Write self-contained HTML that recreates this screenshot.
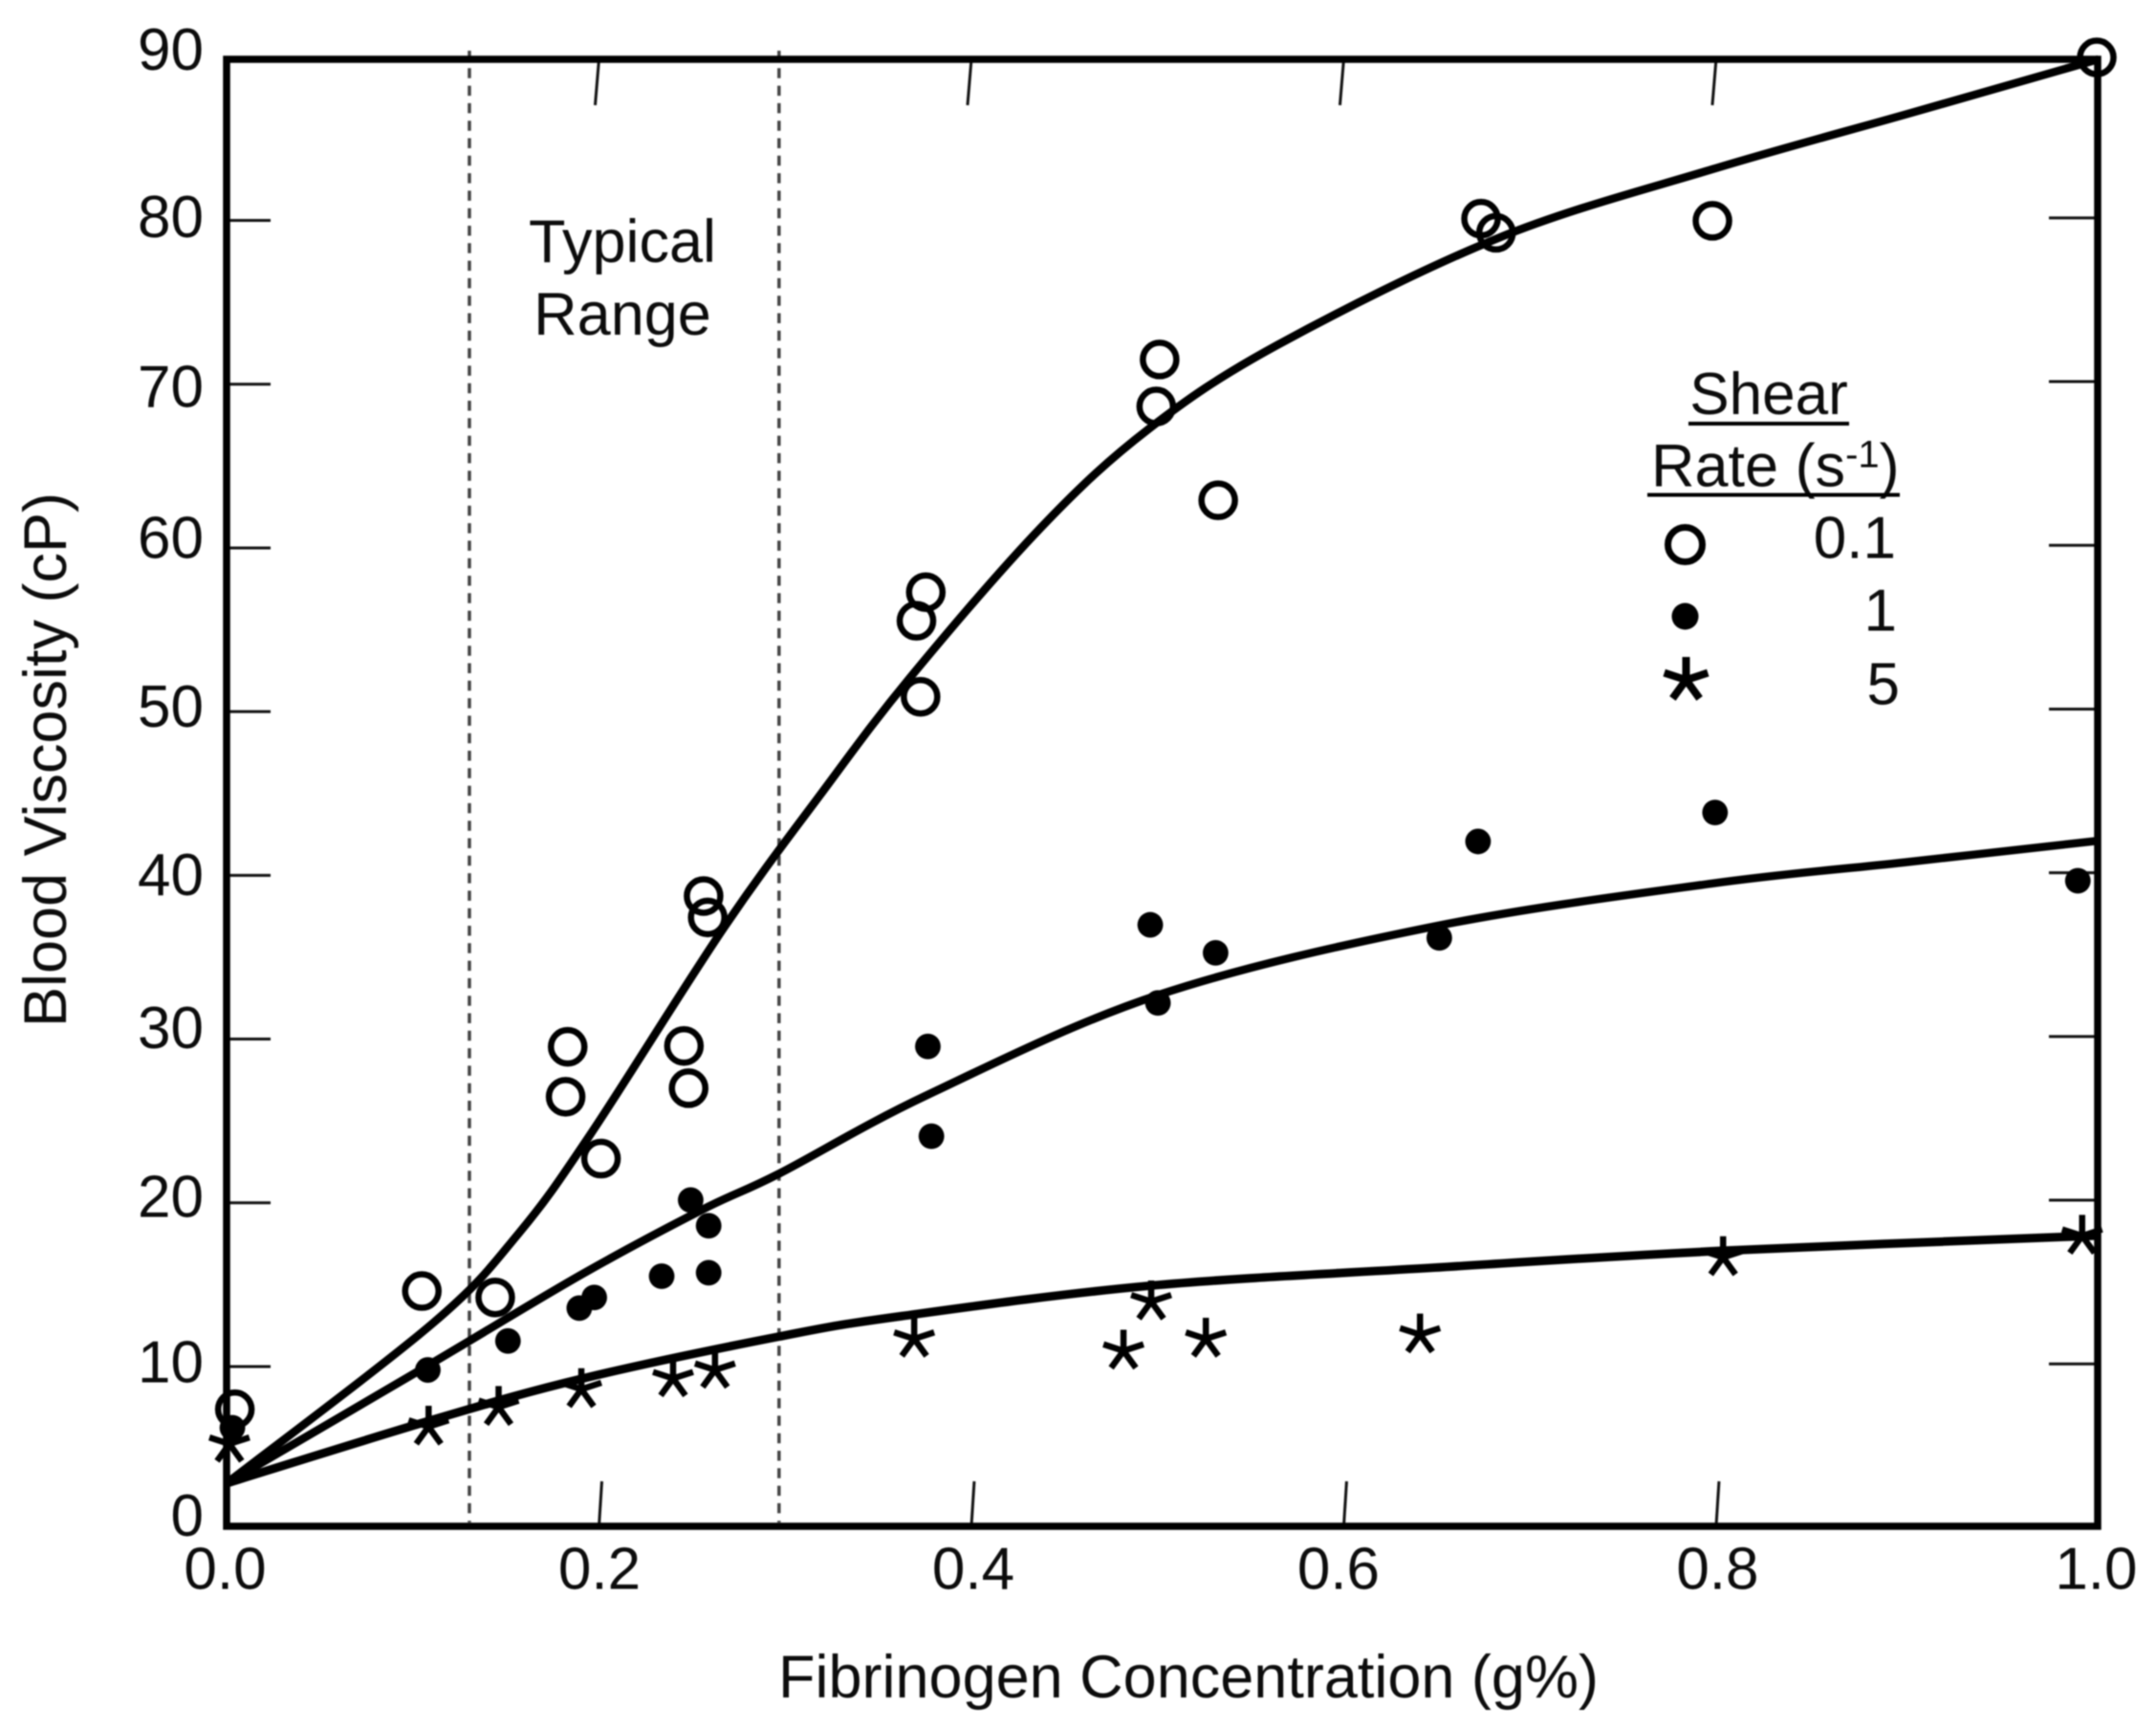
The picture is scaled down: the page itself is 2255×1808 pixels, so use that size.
<!DOCTYPE html>
<html lang="en">
<head>
<meta charset="utf-8">
<title>Blood Viscosity vs Fibrinogen Concentration</title>
<style>
  html, body { margin: 0; padding: 0; background: #ffffff; }
  body { width: 2255px; height: 1808px; overflow: hidden; }
  svg { display: block; filter: blur(0.8px); }
  text { font-family: "Liberation Sans", sans-serif; fill: #0c0c0c; font-size: 62px; }
  .wide { font-size: 63px; }
</style>
</head>
<body>
<svg id="chart" xmlns="http://www.w3.org/2000/svg" width="2255" height="1808" viewBox="0 0 2255 1808">
  <rect x="0" y="0" width="2255" height="1808" fill="#ffffff"/>
  <g id="guides"></g>
  <g id="ticks"></g>
  <rect x="237" y="62" width="1957" height="1534" fill="none" stroke="#000" stroke-width="7.5"/>
  <g id="tick-labels"></g>
  <g id="curves"></g>
  <g id="points"></g>

  <text class="wide" transform="translate(69 1074) rotate(-90)">Blood Viscosity (cP)</text>
  <text class="wide" x="814" y="1775">Fibrinogen Concentration (g%)</text>

  <g>
    <text class="wide" x="651" y="274" text-anchor="middle">Typical</text>
    <text class="wide" x="651" y="350" text-anchor="middle">Range</text>
  </g>

  <g>
    <text x="1850" y="433" text-anchor="middle">Shear</text>
    <line x1="1766" y1="443" x2="1934" y2="443" stroke="#000" stroke-width="4"/>
    <text class="wide" x="1727" y="508.5">Rate (s<tspan font-size="40" dy="-20">-1</tspan><tspan dy="20">)</tspan></text>
    <line x1="1723" y1="517.5" x2="1987" y2="517.5" stroke="#000" stroke-width="4"/>
    <circle cx="1762.5" cy="569.5" r="18" fill="none" stroke="#000" stroke-width="7"/>
    <text x="1983" y="583.5" text-anchor="end">0.1</text>
    <circle cx="1762.5" cy="644.5" r="14" fill="#000"/>
    <text x="1984" y="659.5" text-anchor="end">1</text>
    <path fill="none" stroke="#000" stroke-width="8" d="M1763.5 711L1763.5 687M1763.5 711L1786.3 703.6M1763.5 711L1777.6 730.4M1763.5 711L1749.4 730.4M1763.5 711L1740.7 703.6"/>
    <text x="1987" y="736.5" text-anchor="end">5</text>
  </g>
</svg>

<script>
// ---- axis tick values ----
const yTicks = [0, 10, 20, 30, 40, 50, 60, 70, 80, 90];
const yTickLabels = ['0', '10', '20', '30', '40', '50', '60', '70', '80', '90'];
const xTicks = [0.0, 0.2, 0.4, 0.6, 0.8, 1.0];
const xTickLabels = ['0.0', '0.2', '0.4', '0.6', '0.8', '1.0'];
const typicalRange = [0.1297, 0.2951];

// ---- shear rate 0.1 (open circles) ----
const openX = [0.0044, 0.1043, 0.1435, 0.1822, 0.1811, 0.2000, 0.2443, 0.2468, 0.2548, 0.2570, 0.3685, 0.3735, 0.3707, 0.4966, 0.4984, 0.5297, 0.6701, 0.6781, 0.7937, 0.999];
const openY = [7.31, 14.53, 14.14, 29.45, 26.40, 22.62, 29.50, 26.92, 38.66, 37.35, 55.47, 57.22, 50.83, 68.56, 71.43, 62.83, 80.03, 79.17, 79.90, 89.88];

// ---- shear rate 1 (filled circles) ----
const filledX = [0.0031, 0.1075, 0.1503, 0.1884, 0.1964, 0.2324, 0.2575, 0.2479, 0.2575, 0.3746, 0.3765, 0.4934, 0.4975, 0.5283, 0.6478, 0.6685, 0.7951, 0.9889];
const filledY = [6.18, 9.71, 11.48, 13.49, 14.14, 15.44, 15.65, 20.09, 18.52, 29.47, 23.99, 36.90, 32.13, 35.19, 36.10, 41.99, 43.76, 39.59];

// ---- shear rate 5 (stars) ----
const starX = [0.0015, 0.1079, 0.1453, 0.1895, 0.2385, 0.2609, 0.3673, 0.4791, 0.4939, 0.5231, 0.6375, 0.7994, 0.9912];
const starY = [5.19, 6.24, 7.44, 8.53, 9.19, 9.71, 11.61, 10.88, 13.89, 11.61, 11.87, 16.59, 17.90];

// ---- fitted curves ----
const upperCurveX = [0, 0.1103, 0.1560, 0.1948, 0.2655, 0.3172, 0.3651, 0.4358, 0.4927, 0.5611, 0.6793, 0.7937, 0.9000, 1.0];
const upperCurveY = [2.79, 12.58, 18.05, 24.18, 36.70, 44.85, 52.0, 61.26, 67.2, 72.3, 78.85, 83.05, 86.5, 89.77];
const middleCurveX = [0, 0.1075, 0.1902, 0.2541, 0.2951, 0.3742, 0.4973, 0.6450, 0.7932, 0.8958, 0.9985];
const middleCurveY = [2.79, 9.98, 15.58, 19.5, 21.7, 26.5, 32.6, 36.80, 39.42, 40.71, 42.02];
const lowerCurveX = [0, 0.1079, 0.1902, 0.2951, 0.3606, 0.4927, 0.6450, 0.7993, 1.0];
const lowerCurveY = [2.79, 6.59, 9.19, 11.75, 13.0, 14.85, 15.96, 16.99, 17.92];

// ---- layout (printed labels in the source figure were hand placed) ----
const yLabelNudge = [7, 18, 16, 11, 22, 17, 12, 25, 19, 15];
const xLabelNudge = [-1.5, 0.5, 2, -5.5, 1.5, 8];
const xTickCompression = 0.9946;

// ---- axis functions ----
function x(v) { return 237 + 1958 * v; }
function y(v) { return 1598.8 - 17.12 * v; }
function xTick(v) { return x(v * xTickCompression); }

const NS = 'http://www.w3.org/2000/svg';
function make(tag, parent, attrs) {
  const el = document.createElementNS(NS, tag);
  for (const k in attrs) el.setAttribute(k, attrs[k]);
  parent.appendChild(el);
  return el;
}

// guides
const guides = document.getElementById('guides');
typicalRange.forEach(function (v) {
  const el = make('line', guides, { x1: x(v), x2: x(v), y1: 53, y2: 1592, stroke: '#444', 'stroke-width': 3.5, 'stroke-dasharray': '10.5 7.8' });
  
  
});

// ticks
const ticksG = document.getElementById('ticks');
yTicks.forEach(function (v) {
  if (v === 0 || v === 90) return;
  const left = make('line', ticksG, { x1: 237, x2: 283, y1: y(v) + 1.35, y2: y(v) + 1.35, stroke: '#111', 'stroke-width': 3 });
  
  
  const right = make('line', ticksG, { x1: 2143, x2: 2194, y1: y(v) - 1.35, y2: y(v) - 1.35, stroke: '#111', 'stroke-width': 3 });
  
  
});
xTicks.forEach(function (v) {
  if (v === 0 || v === 1) return;
  const bottom = make('line', ticksG, { x1: xTick(v), x2: xTick(v) + 3, y1: 1596, y2: 1549, stroke: '#111', 'stroke-width': 3 });
  
  
  const top = make('line', ticksG, { x1: xTick(v), x2: xTick(v) - 4, y1: 62, y2: 110, stroke: '#111', 'stroke-width': 3 });
  
  
});

// tick labels
const labelsG = document.getElementById('tick-labels');
yTicks.forEach(function (v, i) {
  const t = make('text', labelsG, { x: 213, y: y(v) + yLabelNudge[i], 'text-anchor': 'end' });
  t.textContent = yTickLabels[i];
  
  
});
xTicks.forEach(function (v, i) {
  const t = make('text', labelsG, { x: xTick(v) + xLabelNudge[i], y: 1661.5, 'text-anchor': 'middle' });
  t.textContent = xTickLabels[i];
  
  
});

// curves: Catmull-Rom through the read points
function smoothPath(xs, ys) {
  const px = xs.map(x), py = ys.map(y);
  let d = 'M' + px[0] + ' ' + py[0];
  for (let i = 0; i < px.length - 1; i++) {
    const a = Math.max(i - 1, 0), b = Math.min(i + 2, px.length - 1);
    const c1x = px[i] + (px[i + 1] - px[a]) / 6, c1y = py[i] + (py[i + 1] - py[a]) / 6;
    const c2x = px[i + 1] - (px[b] - px[i]) / 6, c2y = py[i + 1] - (py[b] - py[i]) / 6;
    d += 'C' + c1x + ' ' + c1y + ' ' + c2x + ' ' + c2y + ' ' + px[i + 1] + ' ' + py[i + 1];
  }
  return d;
}
const curvesG = document.getElementById('curves');
const upperPath = make('path', curvesG, { d: smoothPath(upperCurveX, upperCurveY), fill: 'none', stroke: '#000', 'stroke-width': 8.5 });


const middlePath = make('path', curvesG, { d: smoothPath(middleCurveX, middleCurveY), fill: 'none', stroke: '#000', 'stroke-width': 8.5 });


const lowerPath = make('path', curvesG, { d: smoothPath(lowerCurveX, lowerCurveY), fill: 'none', stroke: '#000', 'stroke-width': 9 });



// points
const pointsG = document.getElementById('points');
openX.forEach(function (v, i) {
  const c = make('circle', pointsG, { cx: x(v), cy: y(openY[i]), r: 17.5, fill: 'none', stroke: '#000', 'stroke-width': 6.5 });
  
  
});
filledX.forEach(function (v, i) {
  const c = make('circle', pointsG, { cx: x(v), cy: y(filledY[i]), r: 13.4, fill: '#000' });
  
  
});
const STAR_ANGLES = [-90, -18, 54, 126, 198];
starX.forEach(function (v, i) {
  const cx = x(v), cy = y(starY[i]);
  const d = STAR_ANGLES.map(function (a) {
    const r = a * Math.PI / 180;
    return 'M' + cx + ' ' + cy + 'L' + (cx + 22 * Math.cos(r)) + ' ' + (cy + 22 * Math.sin(r));
  }).join('');
  const s = make('path', pointsG, { d: d, fill: 'none', stroke: '#000', 'stroke-width': 6.5 });
  
  
});
</script>
</body>
</html>
